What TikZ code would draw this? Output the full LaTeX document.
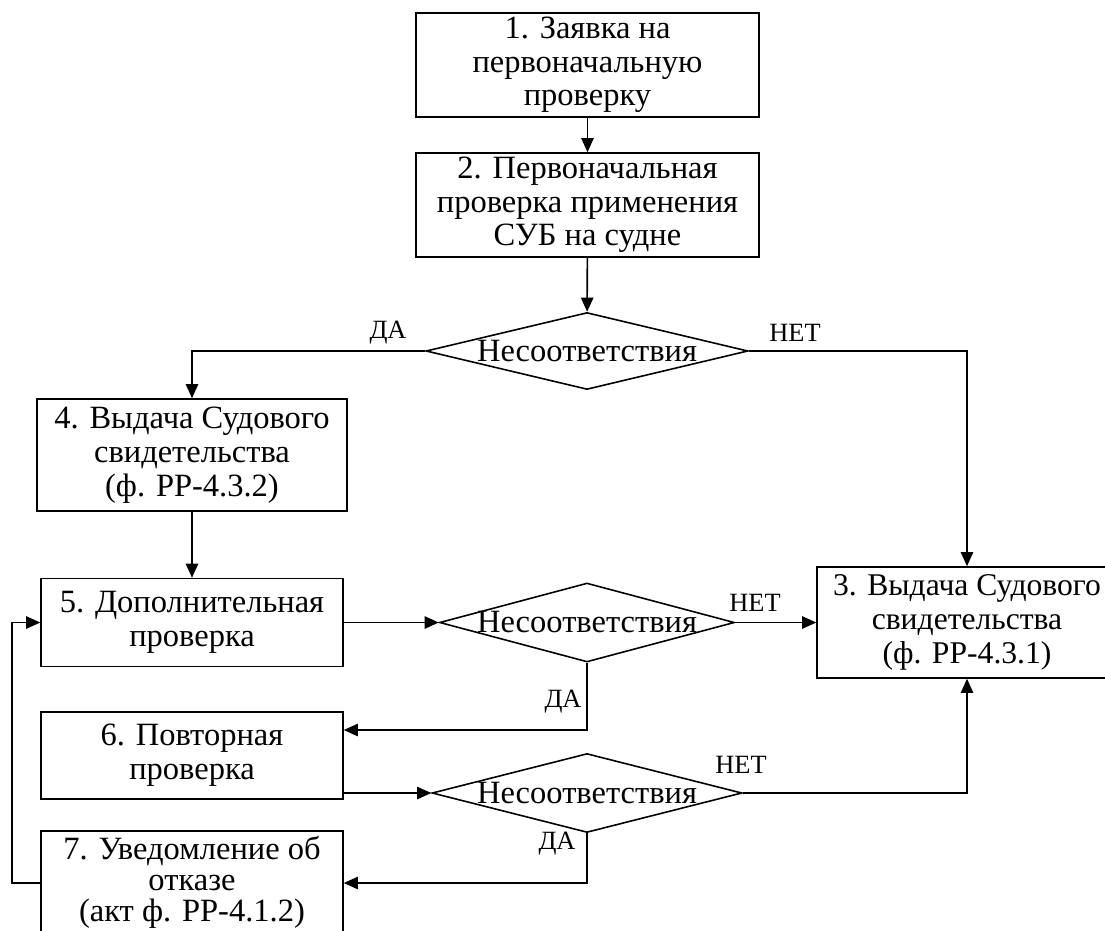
\documentclass[tikz,border=0pt]{standalone}
\usepackage{fontspec}
\setmainfont{Liberation Serif}
\usetikzlibrary{arrows.meta,shapes.geometric}
\tikzset{
  block/.style={draw,line width=0.9pt,align=center,inner sep=1pt,
    font=\fontsize{18.5}{19.2}\selectfont},
  decision/.style={draw,diamond,line width=0.9pt,inner sep=0pt,
    label={[font=\fontsize{18.5}{19.2}\selectfont]center:#1}},
  answer/.style={font=\fontsize{15}{15}\selectfont,inner sep=0pt},
  flow/.style={-{Triangle[length=8pt,width=7pt]},line width=0.9pt},
  link/.style={line width=0.9pt}
}

\begin{document}
\begin{tikzpicture}[x=0.02cm,y=-0.02cm]
    \useasboundingbox (0,0) rectangle (1105,930);

    % main column
    \node[block,minimum width=6.86cm,minimum height=2.08cm] (zayavka) at (587.5,65)
      {1. Заявка на\\первоначальную\\проверку};
    \node[block,minimum width=6.86cm,minimum height=2.08cm] (pervprov) at (587.5,205)
      {2. Первоначальная\\проверка применения\\СУБ на судне};
    \node[decision=Несоответствия,minimum width=6.44cm,minimum height=1.54cm] (check1) at (587,351) {};

    % left column
    \node[block,minimum width=6.2cm,minimum height=2.24cm] (vydacha4) at (192,455)
      {4. Выдача Судового\\свидетельства\\(ф. РР-4.3.2)};
    \node[block,minimum width=6.04cm,minimum height=1.76cm] (dopprov) at (192,622.5)
      {5. Дополнительная\\проверка};
    \node[block,minimum width=6.04cm,minimum height=1.74cm] (povtor) at (192,755.5)
      {6. Повторная\\проверка};
    \node[block,minimum width=6.04cm,minimum height=2.04cm,font=\fontsize{18.5}{17.6}\selectfont] (otkaz) at (192,882)
      {7. Уведомление об\\отказе\\(акт ф. РР-4.1.2)};

    % right
    \node[block,minimum width=6cm,minimum height=2.22cm,font=\fontsize{18}{19.2}\selectfont] (vydacha3) at (967,622.5)
      {3. Выдача Судового\\свидетельства\\(ф. РР-4.3.1)};

    \node[decision=Несоответствия,minimum width=5.9cm,minimum height=1.58cm] (check2) at (587,622.5) {};
    \node[decision=Несоответствия,minimum width=6.2cm,minimum height=1.58cm] (check3) at (587,793) {};

    % answers
    \node[answer] (yes1) at (388,333) {ДА};
    \node[answer] (no1) at (795,333) {НЕТ};
    \node[answer] (no2) at (755,603) {НЕТ};
    \node[answer] (yes2) at (563,702) {ДА};
    \node[answer] (no3) at (741,765) {НЕТ};
    \node[answer] (yes3) at (557,844) {ДА};

    \coordinate (turn2) at (587,730);
    \coordinate (back) at (12,883);

    \draw[flow] (zayavka) -- (pervprov);
    \draw[flow] (pervprov) -- (check1);
    \draw[flow] (check1.west) -| (vydacha4.north);
    \draw[flow] (check1.east) -| (vydacha3.north);
    \draw[flow] (vydacha4) -- (dopprov);
    \draw[flow] (dopprov.east) -- (check2.west);
    \draw[flow] (check2.east) -- (vydacha3.west);
    \draw[flow] (check2.south) -- (turn2) -- (turn2 -| povtor.east);
    \draw[flow] (povtor.east |- check3.west) -- (check3.west);
    \draw[flow] (check3.east) -| (vydacha3.south);
    \draw[flow] (check3.south) |- (back -| otkaz.east);
    \draw[flow] (back -| otkaz.west) -- (back) |- (dopprov.west);
\end{tikzpicture}
\end{document}
